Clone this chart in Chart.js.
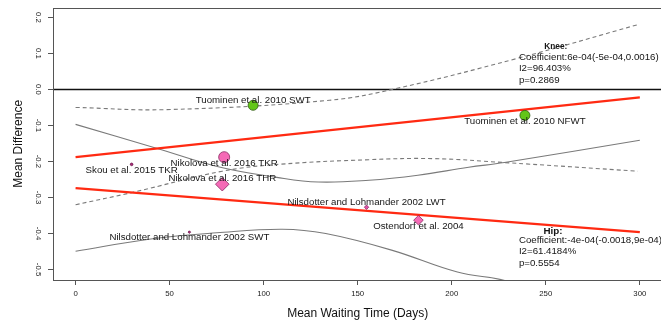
<!DOCTYPE html>
<html>
<head>
<meta charset="utf-8">
<script src="https://cdn.jsdelivr.net/npm/chart.js@4"></script>
<style>
  html, body { margin: 0; padding: 0; overflow: hidden; background: #fff; width: 661px; height: 322px; }
  #wrap { position: absolute; left: 0; top: 0; width: 670px; height: 322px; }
</style>
</head>
<body>
<div id="wrap"><canvas id="c" width="670" height="322"></canvas></div>
<script>
// ---- study estimates ----
const studyNames = [
  'Tuominen et al. 2010 SWT',
  'Tuominen et al. 2010 NFWT',
  'Nikolova et al. 2016 TKR',
  'Nikolova et al. 2016 THR',
  'Skou et al. 2015 TKR',
  'Nilsdotter and Lohmander 2002 LWT',
  'Ostendorf et al. 2004',
  'Nilsdotter and Lohmander 2002 SWT'
];
const waitDays = [94.4, 238.9, 79.0, 78.0, 29.8, 154.7, 182.3, 60.5];
const meanDiff = [-0.044, -0.072, -0.188, -0.263, -0.208, -0.327, -0.363, -0.396];
const joint    = ['Knee', 'Knee', 'Knee', 'Hip', 'Knee', 'Hip', 'Hip', 'Hip'];

// ---- fitted meta-regression lines ----
const fitX      = [0, 300];
const kneeFit   = [-0.188, -0.022];
const hipFit    = [-0.274, -0.396];

// ---- confidence bands ----
const kneeUpperX = [0, 48, 135, 170, 234, 299];
const kneeUpperY = [-0.050, -0.056, -0.030, 0.002, 0.085, 0.180];
const kneeLowerX = [0, 31, 78, 108, 156, 190, 228, 299];
const kneeLowerY = [-0.320, -0.285, -0.227, -0.208, -0.195, -0.192, -0.203, -0.227];
const hipUpperX  = [0, 43, 77, 107, 129, 156, 182, 209, 228, 300];
const hipUpperY  = [-0.097, -0.163, -0.216, -0.244, -0.257, -0.252, -0.238, -0.216, -0.203, -0.141];
const hipLowerX  = [0, 40, 75, 110, 133, 168, 203, 230, 300];
const hipLowerY  = [-0.449, -0.415, -0.398, -0.388, -0.400, -0.446, -0.507, -0.533, -0.651];

// ---- axis ticks ----
const xTicks = [0, 50, 100, 150, 200, 250, 300];
const yTicks = [-0.5, -0.4, -0.3, -0.2, -0.1, 0, 0.1, 0.2];
const yTickLabels = ['-0.5', '-0.4', '-0.3', '-0.2', '-0.1', '0.0', '0.1', '0.2'];

// ---- model summaries ----
const kneeStats = ['Coefficient:6e-04(-5e-04,0.0016)', 'I2=96.403%', 'p=0.2869'];
const hipStats  = ['Coefficient:-4e-04(-0.0018,9e-04)', 'I2=61.4184%', 'p=0.5554'];

// ---- styling ----
const FONT = "'Liberation Sans', Arial, Helvetica, sans-serif";
const markerFill   = ['#63c618', '#63c618', '#f56ab6', '#f56ab6', '#b0307c', '#e24fa6', '#f56ab6', '#b0307c'];
const markerEdge   = ['#2f5a10', '#2f5a10', '#8a2a62', '#8a2a62', '#6a1048', '#8a2a62', '#8a2a62', '#6a1048'];
const markerRadius = [5, 5, 5.5, 6.8, 1.3, 2.2, 4.8, 1.3];
const labelShift   = [-5, 6, 6, -6, 6, -5, 6, 5];

const pts = (xs, ys) => xs.map((x, i) => ({ x, y: ys[i] }));

const band = (xs, ys, dashed) => ({
  data: pts(xs, ys), showLine: true, pointRadius: 0, borderColor: '#7a7a7a',
  borderWidth: 1.1, borderDash: dashed ? [4, 3] : [], tension: 0.4, fill: false
});
const fitLine = (ys) => ({
  data: pts(fitX, ys), showLine: true, pointRadius: 0, borderColor: '#ff2a12',
  borderWidth: 2.3, fill: false
});

// horizontal reference at zero, box frame, study labels and model summaries
const decorations = {
  id: 'decorations',
  beforeDatasetsDraw(chart) {
    const { ctx, chartArea: a, scales: { y } } = chart;
    const py = Math.round(y.getPixelForValue(0)) + 0.5;
    ctx.save();
    ctx.strokeStyle = '#111';
    ctx.lineWidth = 1.4;
    ctx.beginPath(); ctx.moveTo(a.left, py); ctx.lineTo(a.right, py); ctx.stroke();
    ctx.restore();
  },
  afterDatasetsDraw(chart) {
    const { ctx, chartArea: a, scales: { x, y } } = chart;
    ctx.save();
    ctx.fillStyle = '#151515';
    ctx.font = '9.7px ' + FONT;
    ctx.textAlign = 'center';
    ctx.textBaseline = 'middle';
    studyNames.forEach((name, i) => {
      ctx.fillText(name, x.getPixelForValue(waitDays[i]), y.getPixelForValue(meanDiff[i]) + labelShift[i]);
    });

    const block = (title, titleSize, titleX, titleY, lines, lineX, lineY) => {
      ctx.textAlign = 'center';
      ctx.font = 'bold ' + titleSize + 'px ' + FONT;
      ctx.fillText(title, x.getPixelForValue(titleX), y.getPixelForValue(titleY));
      ctx.textAlign = 'left';
      ctx.font = '9.7px ' + FONT;
      const lx = x.getPixelForValue(lineX);
      const ly = y.getPixelForValue(lineY);
      lines.forEach((t, k) => ctx.fillText(t, lx, ly + k * 11.4));
    };
    block('Knee:', 8.3, 255.3, 0.120, kneeStats, 235.7, 0.0895);
    block('Hip:', 9.8, 253.8, -0.393, hipStats, 235.7, -0.419);

    ctx.strokeStyle = '#555';
    ctx.lineWidth = 1;
    ctx.strokeRect(Math.round(a.left) + 0.5, Math.round(a.top) + 0.5,
                   Math.round(a.right - a.left), Math.round(a.bottom - a.top));
    ctx.restore();
  }
};

new Chart(document.getElementById('c'), {
  type: 'scatter',
  data: {
    datasets: [
      {
        data: pts(waitDays, meanDiff),
        pointStyle: joint.map(j => j === 'Hip' ? 'rectRot' : 'circle'),
        pointRadius: markerRadius,
        pointHoverRadius: markerRadius,
        backgroundColor: markerFill,
        borderColor: markerEdge,
        borderWidth: 0.8
      },
      fitLine(kneeFit),
      fitLine(hipFit),
      band(kneeUpperX, kneeUpperY, true),
      band(kneeLowerX, kneeLowerY, true),
      band(hipUpperX, hipUpperY, false),
      band(hipLowerX, hipLowerY, false)
    ]
  },
  options: {
    responsive: false,
    animation: false,
    devicePixelRatio: 1,
    layout: { padding: { left: 0, top: 7, right: 5, bottom: 0 } },
    plugins: { legend: { display: false }, tooltip: { enabled: false } },
    scales: {
      x: {
        type: 'linear', min: -12, max: 312,
        afterBuildTicks: s => { s.ticks = xTicks.map(v => ({ value: v })); },
        afterFit: s => { s.height = 42; },
        grid: { display: true, drawOnChartArea: false, drawTicks: true, tickLength: 5, color: '#555' },
        border: { display: false },
        ticks: { color: '#222', font: { family: FONT, size: 7.8 }, padding: 4, maxRotation: 0, autoSkip: false },
        title: { display: true, text: 'Mean Waiting Time (Days)', color: '#111',
                 font: { family: FONT, size: 12 }, padding: { top: 0, bottom: 1 } }
      },
      y: {
        type: 'linear', min: -0.529, max: 0.227,
        afterBuildTicks: s => { s.ticks = yTicks.map(v => ({ value: v })); },
        afterFit: s => { s.width = 53; },
        grid: { display: true, drawOnChartArea: false, drawTicks: true, tickLength: 5, color: '#555' },
        border: { display: false },
        ticks: {
          color: '#222', font: { family: FONT, size: 7.8 }, padding: 3,
          minRotation: -90, maxRotation: -90, crossAlign: 'center', autoSkip: false,
          callback: v => yTickLabels[yTicks.indexOf(v)]
        },
        title: { display: true, text: 'Mean Difference', color: '#111',
                 font: { family: FONT, size: 12 }, padding: { top: 11, bottom: 0 } }
      }
    }
  },
  plugins: [decorations]
});
</script>
</body>
</html>
